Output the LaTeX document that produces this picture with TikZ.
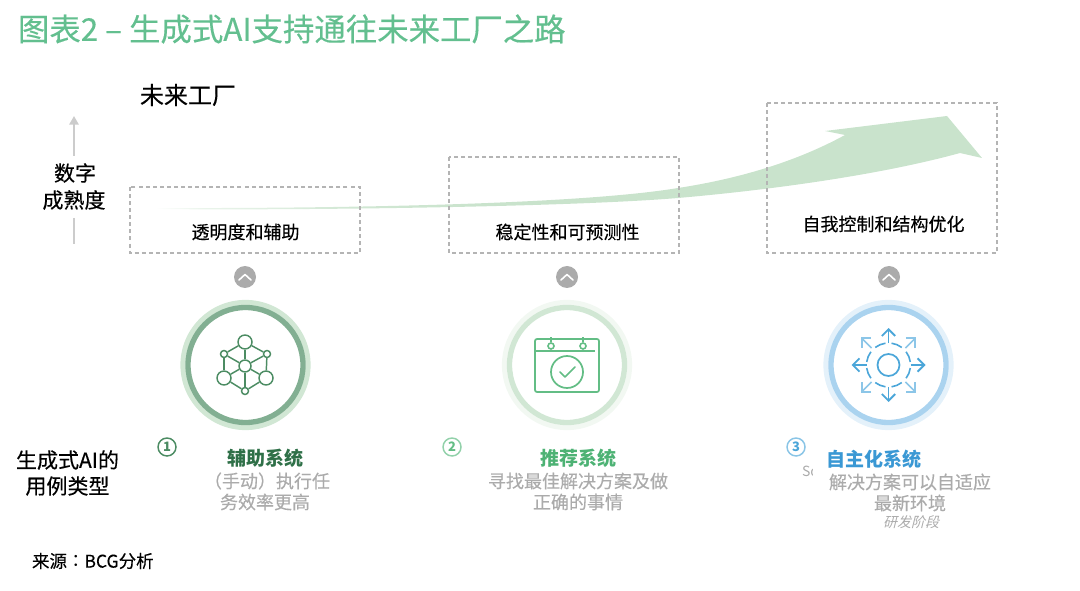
\documentclass[tikz,border=0pt]{standalone}
\usepackage{fontspec}
\setmainfont{Noto Sans CJK SC}
\newfontfamily\medfont[FakeBold=0.35]{Noto Sans CJK SC}
\newfontfamily\cjkslant[FakeSlant=0.25]{Noto Sans CJK SC}
\newfontfamily\tcfont{Noto Sans CJK TC}
\usetikzlibrary{arrows.meta,calc}
\newcommand{\fsz}[1]{\pgfmathsetlengthmacro\fszlen{#1*0.75pt}\fontsize{\fszlen}{\fszlen}\selectfont}
\definecolor{titlegreen}{HTML}{63BF8F}
\definecolor{arrowgreen}{HTML}{C9E3CC}
\definecolor{darkgreen}{HTML}{2F7048}
\definecolor{midgreen}{HTML}{4DB274}
\definecolor{bluetxt}{HTML}{3A98D4}
\definecolor{graytxt}{HTML}{ABABAB}
\definecolor{dashgray}{HTML}{B4B4B4}
\definecolor{iconone}{HTML}{4C8C63}
\definecolor{icontwo}{HTML}{63BD85}
\definecolor{iconthree}{HTML}{4BA6D9}
\definecolor{iconthreelight}{HTML}{8CC6E8}
\definecolor{ringlight}{HTML}{E4F1FA}
\definecolor{ringdark}{HTML}{AAD3EF}
\pgfdeclarehorizontalshading{tailfade}{100bp}{
  color(0bp)=(white);
  color(25bp)=(white);
  color(28bp)=(arrowgreen!40!white);
  color(37bp)=(arrowgreen!85!white);
  color(45bp)=(arrowgreen);
  color(100bp)=(arrowgreen)}
\tikzset{
  plain/.style={inner sep=0,outer sep=0,align=center,text=black},
  dashbox/.style={draw=dashgray,line width=1pt,dash pattern=on 3pt off 2.3pt},
  captxt/.style={plain,font=\fsz{18}\medfont},
  sidetxt/.style={plain,font=\fsz{21}\medfont},
  headtxt/.style={plain,font=\fsz{19}\bfseries},
  bodytxt/.style={plain,text=graytxt,font=\fsz{18}\medfont},
  hub/.style={circle,draw=iconone,line width=1.1pt,inner sep=0,minimum size=#1*0.75pt},
  hubline/.style={draw=iconone,line width=1.1pt},
  numc/.style={circle,line width=1.1pt,inner sep=0,minimum size=13.5pt,font=\fsz{13}\bfseries},
  chev/.style={circle,fill=graytxt,inner sep=0,minimum size=16.5pt},
  chevline/.style={draw=white,line width=1.2pt,line cap=round,line join=round},
  axisline/.style={draw=black!20,line width=1.4pt}
}
\begin{document}
\begin{tikzpicture}[x=0.75pt,y=-0.75pt]
\useasboundingbox (0,0) rectangle (1080,591);
% title
\node[plain,anchor=west,text=titlegreen,font=\fsz{31.4}\medfont] (title) at (18,29) {图表2 – 生成式AI支持通往未来工厂之路};
\node[plain,font=\fsz{24}\medfont] (factory) at (188,95) {未来工厂};
% sweeping arrow
\shade[shading=tailfade]
  (155,208) .. controls (300,208.5) and (570,206) .. (678,188)
  .. controls (730,180) and (790,165) .. (845,135)
  -- (825,131) -- (947,116) -- (982,158) -- (960,153)
  .. controls (880,175) and (770,190) .. (678,198)
  .. controls (570,207) and (300,210.5) .. (155,209) -- cycle;
% dashed boxes
\draw[dashbox] (130,187) rectangle (360,253);
\draw[dashbox] (449,157) rectangle (679,253);
\draw[dashbox] (767,103) rectangle (997,253);
\node[captxt] (t1) at (245.5,232) {透明度和辅助};
\node[captxt] (t2) at (567.5,232) {稳定性和可预测性};
\node[captxt] (t3) at (883.5,224) {自我控制和结构优化};
% axis
\node[sidetxt] (dm1) at (75,173) {数字};
\node[sidetxt] (dm2) at (74,200) {成熟度};
\coordinate (axtop) at (74,116);
\coordinate (axtopstart) at (74,156);
\coordinate (axlowstart) at (74,218);
\coordinate (axlow) at (74,244);
\draw[axisline,-{Triangle[length=6.5pt,width=7pt]}] (axtopstart) -- (axtop);
\draw[axisline] (axlowstart) -- (axlow);
% chevrons
\foreach \n/\x in {a/245,b/567,c/889}{
  \node[chev] (chev\n) at (\x,277) {};
  \draw[chevline] ($(chev\n)+(-6,3)$) -- ($(chev\n)+(0,-2.5)$) -- ($(chev\n)+(6,3)$);
}
% rings
\draw[draw=arrowgreen!85!white,line width=3.9pt] (245.5,365) circle[radius=62.5];
\draw[draw=iconone!70!white,line width=4pt] (245.5,365) circle[radius=57.5];
\draw[draw=arrowgreen!25!white,line width=3.9pt] (567,365) circle[radius=62.5];
\draw[draw=arrowgreen!85!white,line width=4pt] (567,365) circle[radius=57.5];
\draw[draw=ringlight,line width=3.9pt] (888.5,365) circle[radius=62.5];
\draw[draw=ringdark,line width=4pt] (888.5,365) circle[radius=57.5];
% icon 1
\node[hub=12] (hc) at (245,366) {};
\node[hub=14] (h1) at (245,342) {};
\node[hub=7]  (h2) at (224,354) {};
\node[hub=7]  (h3) at (267,354) {};
\node[hub=14] (h4) at (224,378) {};
\node[hub=14] (h5) at (266,378) {};
\node[hub=7]  (h6) at (245,391) {};
\foreach \p/\q in {h1/h2,h1/h3,h2/h4,h3/h5,h4/h6,h5/h6,hc/h1,hc/h2,hc/h3,hc/h4,hc/h5,hc/h6}{
  \draw[hubline] (\p) -- (\q);
}
% icon 2
\node[draw=icontwo,line width=1.3pt,rounded corners=1.5pt,inner sep=0,minimum width=48pt,minimum height=39.75pt] (cal) at (567,365.5) {};
\coordinate (calbarl) at (535,351);
\coordinate (calbarr) at (595,351);
\draw[draw=icontwo,line width=1.3pt] (calbarl) -- (calbarr);
\foreach \n/\x in {a/551,b/583}{
  \node[circle,draw=icontwo,line width=1.2pt,fill=white,inner sep=0,minimum size=4.5pt] (ring\n) at (\x,346) {};
  \draw[draw=icontwo,line width=1.1pt] (ring\n.north) -- ($(ring\n.north)+(0,-5)$);
}
\node[circle,draw=icontwo,line width=1.3pt,inner sep=0,minimum size=24pt] (chk) at (567,372) {};
\draw[draw=icontwo,line width=1.3pt,line cap=round,line join=round] ($(chk)+(-7,0)$) -- ($(chk)+(-2,5)$) -- ($(chk)+(8,-5)$);
% icon 3
\node[circle,draw=iconthree,line width=1.3pt,inner sep=0,minimum size=16.5pt] (gear) at (888.5,365) {};
\foreach \a in {0,90,180,270}{
  \draw[draw=iconthree,line width=1.4pt,-{Straight Barb[length=5pt,width=10pt]}] ($(gear)+(\a:22)$) -- ($(gear)+(\a:37)$);
}
\foreach \a in {45,135,225,315}{
  \draw[draw=iconthreelight,line width=1.3pt,-{Straight Barb[length=5pt,width=10pt]}] ($(gear)+(\a:24)$) -- ($(gear)+(\a:39)$);
}
\foreach \a in {0,45,...,315}{
  \draw[draw=iconthree,line width=1.2pt] ($(gear)+(\a+8:22)$) arc[start angle=\a+8,end angle=\a+37,radius=22];
}
% numbered badges
\node[numc,draw=iconone,text=iconone] (n1) at (167,447) {1};
\node[numc,draw=icontwo!70!white,text=icontwo] (n2) at (452,447) {2};
\node[numc,draw=iconthree!65!white,text=iconthree] (n3) at (796,447) {3};
% labels
\node[headtxt,text=darkgreen] (l1) at (265,458) {辅助系统};
\node[bodytxt] (b1a) at (267,481) {（手动）执行任};
\node[bodytxt] (b1b) at (265,502) {务效率更高};
\node[headtxt,text=midgreen] (l2) at (578,458) {推荐系统};
\node[bodytxt] (b2a) at (578,481) {寻找最佳解决方案及做};
\node[bodytxt] (b2b) at (578,502) {正确的事情};
\node[plain,anchor=west,text=graytxt,font=\fsz{14}] (sc) at (802,471) {Sc};
\fill[white] (813,450) rectangle (1000,495);
\node[headtxt,text=bluetxt] (l3) at (874,459.5) {自主化系统};
\node[bodytxt] (b3a) at (910,482) {解决方案可以自适应};
\node[bodytxt] (b3b) at (910,503) {最新环境};
\node[plain,text=graytxt,font=\fsz{14}\cjkslant] (b3c) at (911,522) {研发阶段};
\node[sidetxt] (u1) at (67.5,460) {生成式AI的};
\node[sidetxt] (u2) at (67.5,486) {用例类型};
\node[plain,anchor=west,font=\fsz{17.5}\medfont] (src) at (32,561) {来源{\tcfont：}BCG分析};
\end{tikzpicture}
\end{document}
